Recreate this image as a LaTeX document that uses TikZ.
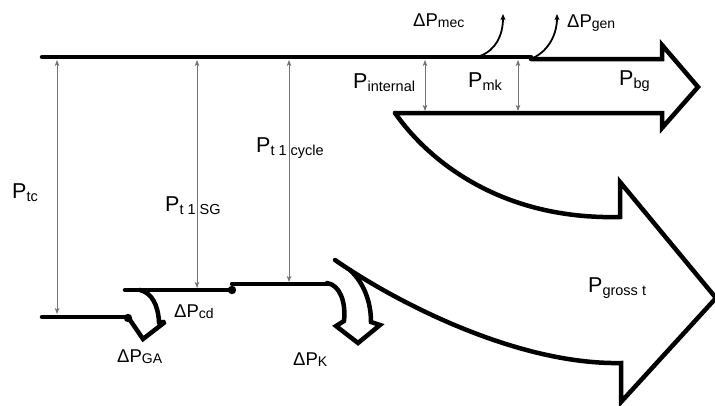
\documentclass[tikz,border=0pt]{standalone}
\usepackage{fontspec}
\setmainfont{Liberation Sans}
\usetikzlibrary{arrows.meta}

% power labels: large P with a lowered subscript
\newcommand\flowlbl[2]{\fontsize{21.5}{24}\selectfont #1\raisebox{-3.5pt}{\fontsize{14.5}{16}\selectfont #2}}
% loss labels: Delta P with a lowered subscript
\newcommand\losslbl[2]{\fontsize{18.5}{20}\selectfont #1\raisebox{-1.5pt}{\fontsize{14}{16}\selectfont #2}}

\begin{document}
\begin{tikzpicture}[x=1pt,y=-1pt,
  flow/.style={line width=4.5pt,line cap=round,line join=miter,miter limit=3},
  dim/.style={draw=black!55,line width=0.8pt,
    {Stealth[length=6pt,width=4.5pt,inset=1.5pt]}-{Stealth[length=6pt,width=4.5pt,inset=1.5pt]}},
  loss/.style={line width=1.8pt,-{Stealth[length=6pt,width=5pt,inset=1.5pt]}},
  lbl/.style={anchor=base west,inner sep=0pt}]
\useasboundingbox (0,0) rectangle (715,405);

% upper stream: gross power to the generator output
\draw[flow] (42,57) -- (531,57);
\draw[flow] (531,59) -- (662,59) -- (662,45) -- (698,87) -- (662,128) -- (662,113) -- (395,113);

% large curved arrow for the gross heat output
\draw[flow] (395,113) .. controls (428,160) and (500,220) .. (620,217)
  -- (620,182) -- (716,298) -- (621,402) -- (621,363)
  .. controls (520,365) and (400,305) .. (335,260);

% condenser loss branch
\draw[flow] (327,283) .. controls (340,285) and (346,302) .. (344,321)
  -- (336,326) -- (358,343) -- (380,325) -- (371,322)
  .. controls (371,302) and (364,283) .. (350,270);

% lower levels with their loss branches
\draw[flow] (42,317) -- (128,317);
\fill (128,318) circle (4.2pt);
\draw[flow] (128,317) -- (143,339) -- (165,322) -- (159,322)
  .. controls (158,305) and (152,293) .. (140,290);
\draw[flow] (125,290) -- (232,290);
\fill (232,290) circle (4.2pt);
\draw[flow] (232,284) -- (327,284);

% dimension arrows
\draw[dim] (57,60) -- (57,314);
\draw[dim] (197,60) -- (197,288);
\draw[dim] (289,60) -- (289,282);
\draw[dim] (425,60) -- (425,111);
\draw[dim] (518,60) -- (518,111);

% mechanical and generator losses
\draw[loss] (480,56) .. controls (496,50) and (503,35) .. (503,14);
\draw[loss] (533,58) .. controls (548,51) and (557,35) .. (557,14);

% labels
\node[lbl] (ptc) at (12,198) {\flowlbl{P}{tc}};
\node[lbl] (ptsg) at (165,211) {\flowlbl{P}{t 1 SG}};
\node[lbl] (ptcyc) at (256,152) {\flowlbl{P}{t 1 cycle}};
\node[lbl] (pint) at (353,88) {\flowlbl{P}{internal}};
\node[lbl] (pmk) at (468,87) {\flowlbl{P}{mk}};
\node[lbl] (pbg) at (619,85) {\flowlbl{P}{bg}};
\node[lbl] (pgross) at (588,292) {\flowlbl{P}{gross t}};
\node[lbl] (dmec) at (413,26) {\losslbl{ΔP}{mec}};
\node[lbl] (dgen) at (567,27) {\losslbl{ΔP}{gen}};
\node[lbl] (dcd) at (174,317) {\losslbl{ΔP}{cd}};
\node[lbl] (dga) at (117,362) {\losslbl{ΔP}{GA}};
\node[lbl] (dk) at (293,365) {\losslbl{ΔP}{K}};
\end{tikzpicture}
\end{document}
